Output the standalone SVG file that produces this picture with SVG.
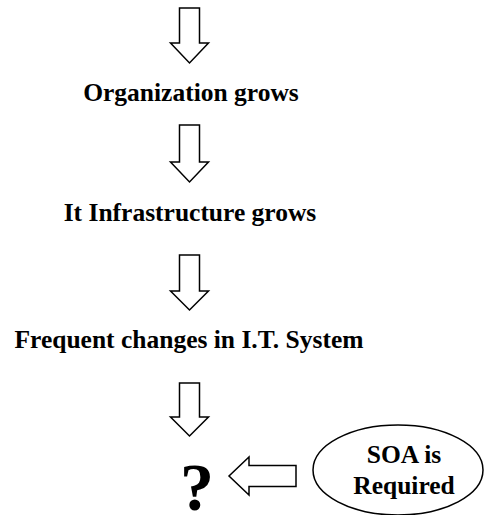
<svg xmlns="http://www.w3.org/2000/svg" width="484" height="515" viewBox="0 0 484 515">
<style>
.arrow{fill:#fff;stroke:#000;stroke-width:1.5;stroke-linejoin:miter}
.lbl{font-family:"Liberation Serif","Times New Roman",serif;font-weight:bold;font-size:25.5px;fill:#000;text-anchor:middle}
.node{fill:#fff;stroke:#000;stroke-width:1.5}
</style>
<rect width="484" height="515" fill="#fff"/>
<g id="connectors">
<path class="arrow" d="M179.5,8 H199.5 V43 H208.5 L189.5,63 L170.5,43 H179.5 Z"/>
<path class="arrow" d="M179.5,125 H199.5 V162 H208.5 L189.5,182 L170.5,162 H179.5 Z"/>
<path class="arrow" d="M179.5,255 H199.5 V291 H208.5 L189.5,310 L170.5,291 H179.5 Z"/>
<path class="arrow" d="M179.5,383 H199.5 V417 H208.5 L189.5,436 L170.5,417 H179.5 Z"/>
<path class="arrow" d="M296,465.5 H249 V457 L229,476 L249,495 V486.5 H296 Z"/>
</g>
<g id="org"><text class="lbl" x="191" y="101" font-family="Liberation Serif, serif">Organization grows</text></g>
<g id="infra"><text class="lbl" x="190" y="221" font-family="Liberation Serif, serif">It Infrastructure grows</text></g>
<g id="changes"><text class="lbl" x="189" y="348" font-family="Liberation Serif, serif">Frequent changes in I.T. System</text></g>
<g id="question"><text class="lbl" x="197" y="510" style="font-size:68px" font-family="Liberation Serif, serif">?</text></g>
<g id="soa">
<ellipse class="node" cx="398" cy="470" rx="85" ry="45"/>
<text class="lbl" x="404" y="463" font-family="Liberation Serif, serif">SOA is</text>
<text class="lbl" x="404" y="494" font-family="Liberation Serif, serif">Required</text>
</g>
</svg>
